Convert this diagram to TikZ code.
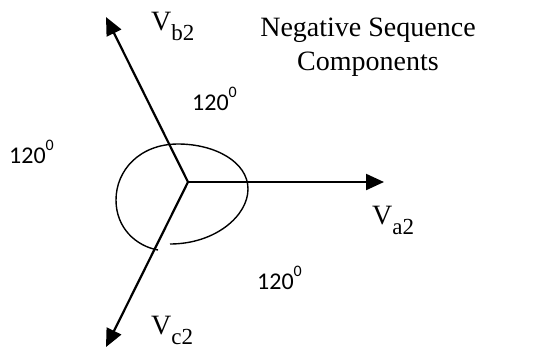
\documentclass[tikz,border=0pt]{standalone}
\usepackage{fontspec}
\setmainfont{Liberation Serif}
\newfontfamily\calib{Carlito}
\usetikzlibrary{arrows.meta}
\newcommand{\vsub}[1]{V{\fontsize{23}{23}\selectfont\raisebox{-10pt}{#1}}}
\newcommand{\degz}{120{\fontsize{16}{16}\selectfont\raisebox{13pt}{0}}}
\begin{document}
\begin{tikzpicture}[x=1pt,y=-1pt,
  phasor/.style={line width=2.2pt,-{Triangle[length=18pt,width=16pt]}},
  vlab/.style={inner sep=0pt,anchor=base west,font=\fontsize{28}{30}\selectfont},
  title/.style={inner sep=0pt,align=center,font=\fontsize{28}{34}\selectfont},
  anglab/.style={inner sep=0pt,anchor=base west,font=\calib\fontsize{24}{25}\selectfont}]
\useasboundingbox (0,0) rectangle (548,349);
\coordinate (O) at (188,182);
\coordinate (A) at (384,182);
\coordinate (B) at (106,17);
\coordinate (C) at (106,347);
\draw[phasor] (O) -- (A);
\draw[phasor] (O) -- (B);
\draw[phasor] (O) -- (C);
\draw[line width=1.4pt] (170,244) .. controls (215,244) and (248,216) .. (248,189)
  .. controls (248,162) and (215,144) .. (178,144)
  .. controls (140,144) and (116,170) .. (116,200)
  .. controls (116,228) and (136,246) .. (158,250);
\node[vlab] (vb) at (151,30) {\vsub{b2}};
\node[vlab] (va) at (372,224) {\vsub{a2}};
\node[vlab] (vc) at (151,334) {\vsub{c2}};
\node[title,anchor=north] (t) at (368,18) {Negative Sequence\\Components};
\node[anglab] (a1) at (192,110) {\degz};
\node[anglab] (a2) at (9,163) {\degz};
\node[anglab] (a3) at (257,289) {\degz};
\end{tikzpicture}
\end{document}
